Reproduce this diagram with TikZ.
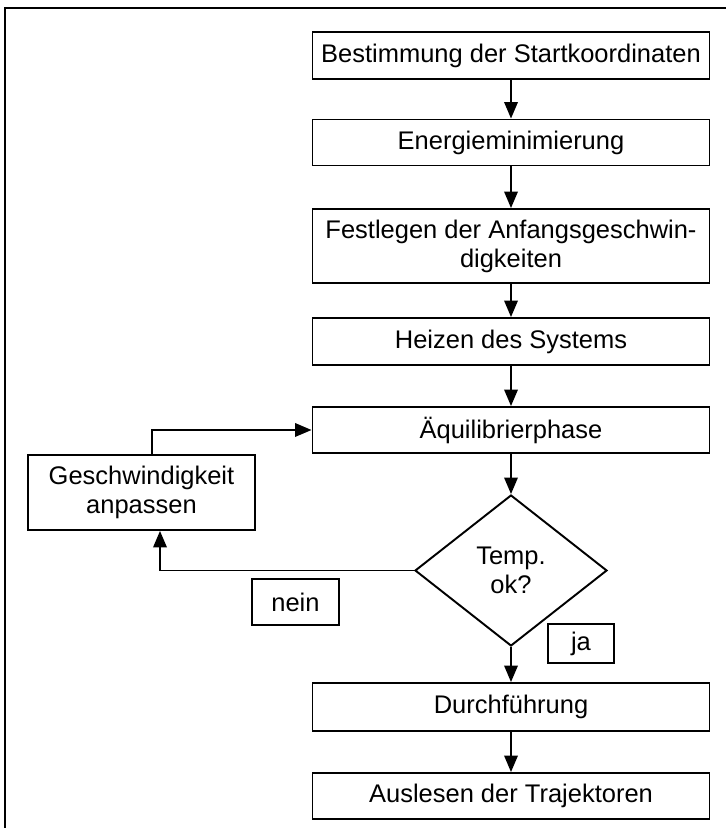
\documentclass[tikz,border=0pt]{standalone}
\usepackage{fontspec}
\setmainfont{Liberation Sans}
\usetikzlibrary{shapes.geometric, arrows.meta}

\tikzset{
    schritt/.style={draw, line width=1.1pt, minimum width=7.94cm, minimum height=0.92cm, align=center, inner sep=2pt, font=\fontsize{14.5}{16.5}\selectfont},
    etikett/.style={draw, line width=1.1pt, align=center, inner sep=2pt, font=\fontsize{14.5}{16.5}\selectfont},
    pfeil/.style={->, line width=1.1pt}
}

\begin{document}
\begin{tikzpicture}[>={Triangle[length=3.3mm,width=2.7mm]}]
        %\draw[step=1cm,gray,very thin] (0,0) grid (14,16);
        \useasboundingbox (0,0) rectangle (14.52,16.56);
        
        % Frame
        \draw[line width=1.4pt] (0.1,0) -- (0.1,16.4) -- (14.52,16.4);
        
        % Main steps
        \node[schritt, minimum height=0.94cm] (start) at (10.22,15.45) {Bestimmung der Startkoordinaten};
        \node[schritt] (emin) at (10.22,13.71) {Energieminimierung};
        \node[schritt, minimum height=1.48cm] (geschw) at (10.22,11.64) {Festlegen der Anfangsgeschwin-\\digkeiten};
        \node[schritt, minimum height=0.94cm] (heizen) at (10.22,9.73) {Heizen des Systems};
        \node[schritt] (aequi) at (10.22,7.96) {Äquilibrierphase};
        
        % Decision
        \node[draw, diamond, line width=1.1pt, minimum width=3.84cm, minimum height=3.02cm, inner sep=0pt, align=center, font=\fontsize{14.5}{16.5}\selectfont] (temp) at (10.22,5.15) {Temp.\\ok?};
        \node[etikett, minimum width=4.54cm, minimum height=1.5cm] (anpassen) at (2.83,6.71) {Geschwindigkeit\\anpassen};
        
        % Labels
        \node[etikett, minimum width=1.74cm, minimum height=0.92cm] (nein) at (5.91,4.52) {nein};
        \node[etikett, minimum width=1.32cm, minimum height=0.78cm] (ja) at (11.62,3.69) {ja};
        
        % Production run
        \node[schritt, minimum height=0.96cm] (lauf) at (10.22,2.42) {Durchführung};
        \node[schritt] (auslesen) at (10.22,0.64) {Auslesen der Trajektoren};
        
        % Arrows
        \draw[pfeil] (start) -- (emin);
        \draw[pfeil] (emin) -- (geschw);
        \draw[pfeil] (geschw) -- (heizen);
        \draw[pfeil] (heizen) -- (aequi);
        \draw[pfeil] (aequi) -- (temp);
        \draw[pfeil] (temp) -- (lauf);
        \draw[pfeil] (lauf) -- (auslesen);
        
        % Loop back
        \draw[pfeil] (temp.west) -| ([xshift=0.37cm]anpassen.south);
        \draw[pfeil] ([xshift=0.21cm]anpassen.north) |- (aequi.west);
        
    \end{tikzpicture}
\end{document}
